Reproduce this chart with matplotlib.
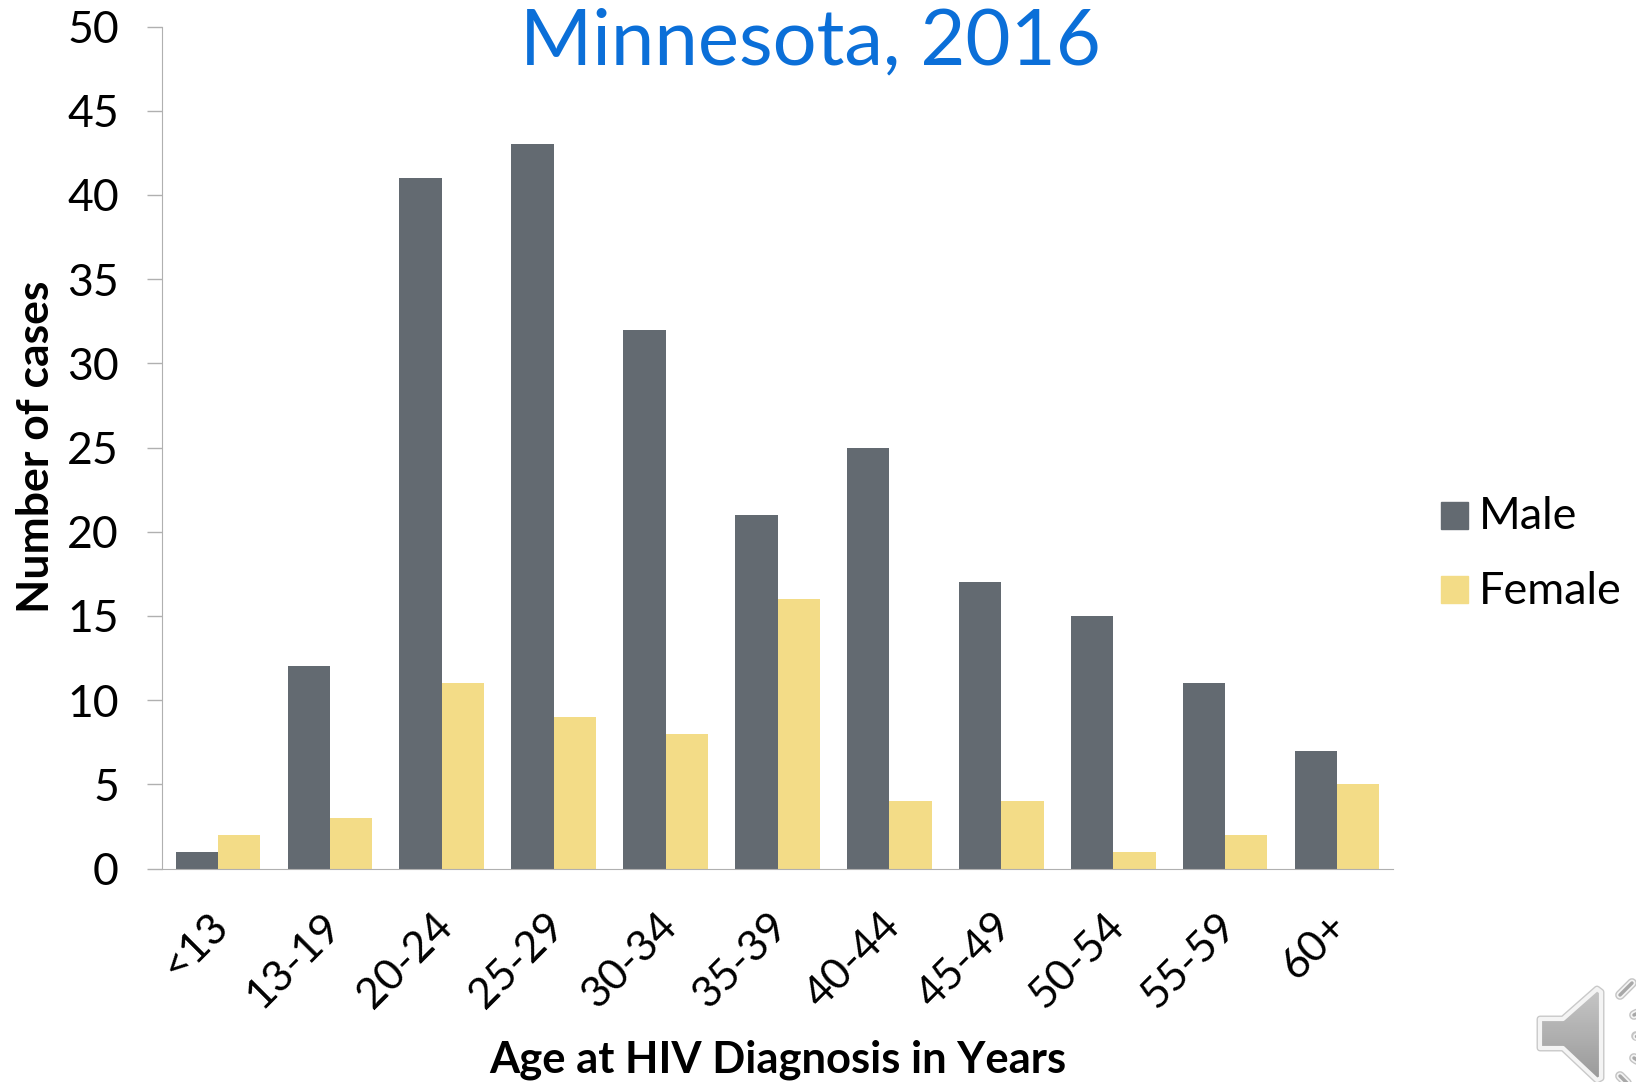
import numpy as np
import matplotlib
matplotlib.use("Agg")
import matplotlib.pyplot as plt
from matplotlib.patches import Polygon
from matplotlib.transforms import ScaledTranslation

plt.rcParams['font.family'] = ['Lato', 'DejaVu Sans']

categories = ['<13', '13-19', '20-24', '25-29', '30-34', '35-39', '40-44', '45-49', '50-54', '55-59', '60+']
male = [1, 12, 41, 43, 32, 21, 25, 17, 15, 11, 7]
female = [2, 3, 11, 9, 8, 16, 4, 4, 1, 2, 5]
yticks = np.arange(0, 55, 5)

W, H = 1636, 1082
fig = plt.figure(figsize=(W / 100, H / 100), dpi=100)
# plot area in reference pixels: x 162-1393, y 26.5-868.5
ax = fig.add_axes([162 / W, 1 - 868.5 / H, (1393 - 162) / W, (868.5 - 26.5) / H])

x = np.arange(len(categories))
bw = 0.378
ax.bar(x - bw / 2, male, bw, color='#636a71', label='Male')
ax.bar(x + bw / 2, female, bw, color='#f3dc87', label='Female')

ax.set_xlim(-0.5, len(categories) - 0.5)
ax.set_ylim(0, 50)
ax.set_yticks(yticks)
ax.set_xticks(x)
ax.set_xticklabels(categories, rotation=45, ha='right', rotation_mode='anchor', fontsize=31)
ax.tick_params(axis='x', length=0, pad=27)
ax.tick_params(axis='y', length=11, width=1, color='#b0b0b0', labelsize=32, pad=20, direction='out')
# nudge the slanted labels left
shift = ScaledTranslation(-9 / 100, 0, fig.dpi_scale_trans)
for lab in ax.get_xticklabels():
    lab.set_transform(lab.get_transform() + shift)
ax.spines['top'].set_visible(False)
ax.spines['right'].set_visible(False)
ax.spines['left'].set_color('#b0b0b0')
ax.spines['bottom'].set_color('#b0b0b0')

fig.text(810 / W, 1 - 43 / H, 'Minnesota, 2016', color='#0b6fd8', fontsize=56, ha='center', va='center')
fig.text(36 / W, 1 - 447 / H, 'Number of cases', fontsize=32, fontweight='bold', rotation=90, ha='center', va='center')
fig.text(778 / W, 1 - 1060 / H, 'Age at HIV Diagnosis in Years', fontsize=31.3, fontweight='bold', ha='center', va='center')

# legend
fig.patches.append(plt.Rectangle((1441 / W, 1 - 529 / H), 27 / W, 27 / H, transform=fig.transFigure, color='#636a71'))
fig.patches.append(plt.Rectangle((1441 / W, 1 - 603 / H), 27 / W, 27 / H, transform=fig.transFigure, color='#f3dc87'))
fig.text(1479 / W, 1 - 517 / H, 'Male', fontsize=32.4, va='center')
fig.text(1479 / W, 1 - 591 / H, 'Female', fontsize=32.4, va='center')

# speaker icon, drawn in pixel coordinates
icon = fig.add_axes([0, 0, 1, 1], zorder=5)
icon.set_xlim(0, W)
icon.set_ylim(H, 0)
icon.axis('off')
pts = [(1540, 1019), (1563, 1019), (1597, 989), (1601, 992), (1601, 1078), (1597, 1080), (1563, 1048), (1540, 1048)]
icon.add_patch(Polygon(pts, facecolor='none', edgecolor='#c9c9c9', lw=5, joinstyle='round'))
body = Polygon(pts, facecolor='none', edgecolor='#f4f4f4', lw=3, joinstyle='round', zorder=3)
icon.add_patch(body)
grad = icon.imshow(np.linspace(0.78, 0.6, 50).reshape(-1, 1), cmap='gray', vmin=0, vmax=1,
                   extent=(1538, 1603, 1082, 986), aspect='auto', zorder=2)
grad.set_clip_path(Polygon(pts, transform=icon.transData))
icon.set_xlim(0, W)
icon.set_ylim(H, 0)
pills = [((1620, 995), (1632, 983)), ((1634, 1015), (1640, 1012)), ((1636, 1036), (1640, 1036)),
         ((1634, 1058), (1640, 1062)), ((1620, 1076), (1628, 1084))]
for a, b in pills:
    icon.plot([a[0], b[0]], [a[1], b[1]], color='#c4c4c4', lw=7, solid_capstyle='round')
    icon.plot([a[0], b[0]], [a[1], b[1]], color='#f4f4f4', lw=5, solid_capstyle='round')
    icon.plot([a[0], b[0]], [a[1], b[1]], color='#a8a8a8', lw=2.5, solid_capstyle='round')

fig.savefig('out.png', dpi=100)
